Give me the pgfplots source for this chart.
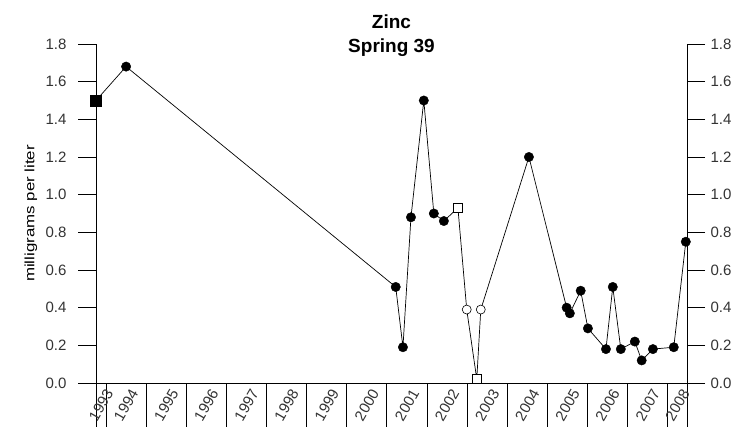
\documentclass[border=0pt]{standalone}
\usepackage{pgfplots}
\pgfplotsset{compat=1.18}
\usepackage{fontspec}
\setmainfont{Liberation Sans}
\newfontfamily\ylabfont[FakeStretch=1.25]{Liberation Sans}

\begin{document}
\begin{tikzpicture}
\pgfplotsset{
  common/.style={
    at={(96pt,43pt)}, anchor=south west,
    width=591pt, height=339pt, scale only axis,
    xmin=1993.75, xmax=2008.48, ymin=0, ymax=1.8,
    ytick={0,0.2,0.4,0.6,0.8,1.0,1.2,1.4,1.6,1.8},
    tick style={line width=0.9pt, black},
    minor tick num=0,
    clip=false,
    yticklabel style={/pgf/number format/fixed, /pgf/number format/fixed zerofill, /pgf/number format/precision=1, /pgf/number format/assume math mode=true},
    tick label style={font=\fontsize{15}{18}\selectfont, text=black!80},
  },
  fixlines/.style={
    tick align=outside,
    axis line style={-, line width=0.9pt, black},
    x axis line style={-}, y axis line style={-},
  }
}
% x axis with data
\begin{axis}[common,
  axis x line=bottom, axis y line=none, fixlines,
  major tick length=45pt,
  xtick={1993.75,1994,1995,1996,1997,1998,1999,2000,2001,2002,2003,2004,2005,2006,2007,2008,2008.48},
  xticklabels={1993,1994,1995,1996,1997,1998,1999,2000,2001,2002,2003,2004,2005,2006,2007,2008},
  x tick label as interval,
  xticklabel style={yshift=23pt, rotate=60, anchor=center},
  title={Zinc\\Spring 39},
  title style={at={(0.5,1)}, anchor=north, inner sep=0pt, yshift=23pt, align=center, font=\bfseries\fontsize{19}{24}\selectfont},
]
\addplot[black, line width=0.7pt, mark=none] coordinates {
(1993.75,1.50) (1994.50,1.68) (2001.22,0.51) (2001.40,0.19) (2001.60,0.88)
(2001.92,1.50) (2002.17,0.90) (2002.42,0.86) (2002.77,0.93) (2002.99,0.39)
(2003.24,0.02) (2003.34,0.39) (2004.54,1.20) (2005.48,0.40) (2005.56,0.37)
(2005.83,0.49) (2006.01,0.29) (2006.46,0.18) (2006.63,0.51) (2006.83,0.18)
(2007.18,0.22) (2007.35,0.12) (2007.63,0.18) (2008.15,0.19) (2008.45,0.75)
};
% filled circles
\addplot[only marks, mark=*, mark size=4.7pt, black] coordinates {
(1994.50,1.68) (2001.22,0.51) (2001.40,0.19) (2001.60,0.88)
(2001.92,1.50) (2002.17,0.90) (2002.42,0.86) (2004.54,1.20) (2005.48,0.40) (2005.56,0.37)
(2005.83,0.49) (2006.01,0.29) (2006.46,0.18) (2006.63,0.51) (2006.83,0.18)
(2007.18,0.22) (2007.35,0.12) (2007.63,0.18) (2008.15,0.19) (2008.45,0.75)
};
% filled square
\addplot[only marks, mark=square*, mark size=5.5pt, black] coordinates {(1993.75,1.50)};
% open squares
\addplot[only marks, mark=square*, mark size=4.5pt, draw=black, fill=white, line width=0.7pt] coordinates {(2002.77,0.93) (2003.24,0.02)};
% open circles
\addplot[only marks, mark=*, mark size=4.5pt, draw=black, fill=white, line width=0.6pt] coordinates {(2002.99,0.39) (2003.34,0.39)};
\end{axis}
% left y axis
\begin{axis}[common,
  axis y line=left, axis x line=none, fixlines,
  major tick length=18pt,
  yticklabel style={xshift=-8pt},
  ylabel={\ylabfont\fontsize{13.5}{16}\selectfont milligrams per liter},
  ylabel style={at={(axis description cs:-0.11,0.5)}, anchor=center},
]
\addplot[draw=none] coordinates {(2000,0)};
\end{axis}
% right y axis
\begin{axis}[common,
  axis y line=right, axis x line=none, fixlines,
  major tick length=18pt,
  yticklabel style={xshift=2pt},
]
\addplot[draw=none] coordinates {(2000,0)};
\end{axis}
\pgfresetboundingbox
\path[use as bounding box] (0,0) rectangle (751pt,426pt);
\end{tikzpicture}
\end{document}
